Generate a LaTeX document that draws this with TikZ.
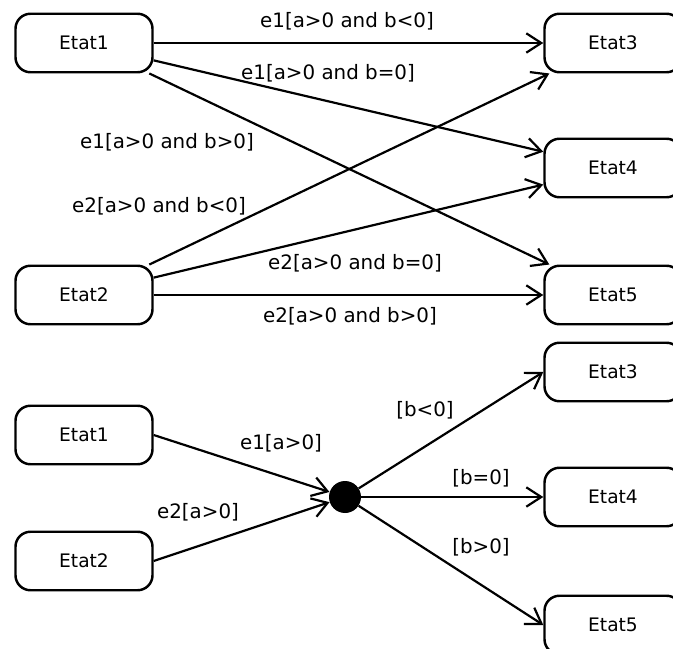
\documentclass[tikz,border=0pt]{standalone}
\usepackage{fontspec}
\setmainfont{DejaVu Sans}
\usetikzlibrary{arrows.meta}

\begin{document}
\begin{tikzpicture}[
        x=0.02cm, y=-0.02cm,
        etat/.style={rectangle, rounded corners=8.5pt, draw, line width=1.4pt,
                     minimum width=2.74cm, minimum height=1.17cm,
                     font=\fontsize{10.6}{12}\selectfont},
        jonction/.style={circle, fill, minimum size=0.64cm, inner sep=0pt},
        arr/.style={-{Straight Barb[length=8.5pt,width=11pt]}, line width=1.25pt},
        lbl/.style={font=\fontsize{11.3}{13}\selectfont},
      ]
        \clip (0,0) rectangle (673,649);

        \node[etat] (a1) at (84,43)  {Etat1};
        \node[etat] (a2) at (84,295) {Etat2};
        \node[etat] (a3) at (613,43) {Etat3};
        \node[etat] (a4) at (613,168) {Etat4};
        \node[etat] (a5) at (613,295) {Etat5};

        \draw[arr] (a1) -- (a3);
        \draw[arr] (a1.-14) -- (a4);
        \draw[arr] (a1.-25) -- (a5);
        \draw[arr] (a2.25) -- (a3);
        \draw[arr] (a2.14) -- (a4);
        \draw[arr] (a2) -- (a5);

        \node[lbl] (l13) at (347,21)  {e1[a>0 and b<0]};
        \node[lbl] (l14) at (328,73)  {e1[a>0 and b=0]};
        \node[lbl] (l15) at (167,142) {e1[a>0 and b>0]};
        \node[lbl] (l23) at (159,206) {e2[a>0 and b<0]};
        \node[lbl] (l24) at (355,263) {e2[a>0 and b=0]};
        \node[lbl] (l25) at (350,316) {e2[a>0 and b>0]};

        \node[etat] (b1) at (84,435) {Etat1};
        \node[etat] (b2) at (84,561) {Etat2};
        \node[jonction] (j) at (345,497) {};
        \node[etat] (b3) at (613,372) {Etat3};
        \node[etat] (b4) at (613,497) {Etat4};
        \node[etat] (b5) at (613,625) {Etat5};

        \draw[arr] (b1.east) -- (j);
        \draw[arr] (b2.east) -- (j);
        \draw[arr] (j) -- (b3.west);
        \draw[arr] (j) -- (b4);
        \draw[arr] (j) -- (b5.west);

        \node[lbl] (m1) at (281,443) {e1[a>0]};
        \node[lbl] (m2) at (198,512) {e2[a>0]};
        \node[lbl] (m3) at (425,410) {[b<0]};
        \node[lbl] (m4) at (481,478) {[b=0]};
        \node[lbl] (m5) at (481,547) {[b>0]};
      \end{tikzpicture}
\end{document}
